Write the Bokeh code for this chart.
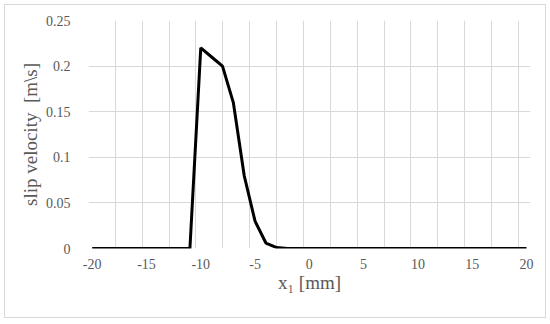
from bokeh.plotting import figure
from bokeh.models import FixedTicker, Range1d
from bokeh.embed import file_html
from bokeh.resources import INLINE

# data
x_mm = list(range(-20, 21))
slip_velocity = ([0.0] * 10
                 + [0.22, 0.21, 0.20, 0.16, 0.08, 0.03, 0.006, 0.001]
                 + [0.0] * 23)
x_ticks = [-20, -15, -10, -5, 0, 5, 10, 15, 20]
x_tick_labels = ["-20", "-15", "-10", "-5", "0", "5", "10", "15", "20"]
y_ticks = [0, 0.05, 0.1, 0.15, 0.2, 0.25]
y_tick_labels = ["0", "0.05", "0.1", "0.15", "0.2", "0.25"]

grey = "#595959"
grid = "#d9d9d9"
FONT = "Liberation Serif"

p = figure(width=542, height=314, output_backend="svg", toolbar_location=None,
           x_range=Range1d(-20.34, 20.37), y_range=Range1d(0, 0.25))
p.min_border_left = 83
p.min_border_right = 17
p.min_border_top = 15
p.min_border_bottom = 71
p.outline_line_color = None
p.styles = {"border": "1px solid #d9d9d9", "box-sizing": "border-box",
            "margin": "4px"}

p.line(x_mm, slip_velocity, line_color="black", line_width=3)

p.xaxis.ticker = FixedTicker(ticks=x_ticks)
p.yaxis.ticker = FixedTicker(ticks=y_ticks)
p.xaxis.major_label_overrides = {t: s for t, s in zip(x_ticks, x_tick_labels)}
p.yaxis.major_label_overrides = {t: s for t, s in zip(y_ticks, y_tick_labels)}
p.xgrid.ticker = FixedTicker(ticks=[-20.34 + 2.475 * k for k in range(17)])
p.ygrid.ticker = FixedTicker(ticks=y_ticks)
p.xgrid.grid_line_color = grid
p.ygrid.grid_line_color = grid

p.axis.axis_line_color = None
p.axis.major_tick_line_color = None
p.axis.minor_tick_line_color = None
p.axis.major_label_text_font = FONT
p.axis.major_label_text_font_size = "14px"
p.axis.major_label_text_color = grey
p.axis.axis_label_text_font = FONT
p.axis.axis_label_text_font_size = "19px"
p.axis.axis_label_text_font_style = "normal"
p.axis.axis_label_text_color = grey

p.yaxis.major_label_standoff = 12
p.yaxis.axis_label = "slip velocity\u00a0 [m\\s]"
p.yaxis.axis_label_standoff = 2
p.xaxis.major_label_standoff = 4
p.xaxis.axis_label = "x\u2081 [mm]"
p.xaxis.axis_label_standoff = 0

open("out.html", "w").write(file_html(p, INLINE))
